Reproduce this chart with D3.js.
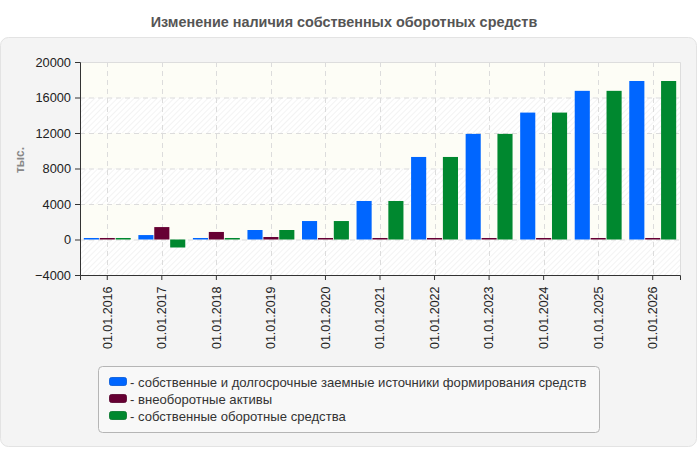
<!DOCTYPE html>
<html><head><meta charset="utf-8">
<script src="https://cdn.jsdelivr.net/npm/d3@7"></script>
<style>body{margin:0;background:#fff;font-family:"Liberation Sans",Arial,sans-serif;}</style>
</head><body><svg id="c" width="700" height="450"></svg>
<script>
const categories = ["01.01.2016","01.01.2017","01.01.2018","01.01.2019","01.01.2020","01.01.2021","01.01.2022","01.01.2023","01.01.2024","01.01.2025","01.01.2026"];
const seriesNames = ["собственные и долгосрочные заемные источники формирования средств","внеоборотные активы","собственные оборотные средства"];
const ownAndLongTerm = [170, 500, 170, 1070, 2080, 4340, 9300, 11900, 14300, 16750, 17860];
const nonCurrentAssets = [170, 1400, 850, 280, 170, 170, 170, 170, 170, 170, 170];
const ownWorkingCapital = [170, -900, 170, 1070, 2080, 4340, 9300, 11900, 14300, 16750, 17860];
const yTicks = [-4000, 0, 4000, 8000, 12000, 16000, 20000];
const colors = ["#0066ff", "#660033", "#00882f"];
const series = [ownAndLongTerm, nonCurrentAssets, ownWorkingCapital];

const svg = d3.select("#c");
const defs = svg.append("defs");
const pat = defs.append("pattern").attr("id","hatch").attr("patternUnits","userSpaceOnUse")
  .attr("width",4).attr("height",4).attr("patternTransform","rotate(45)");
pat.append("rect").attr("width",4).attr("height",4).attr("fill","#ffffff");
pat.append("line").attr("x1",0).attr("y1",0).attr("x2",0).attr("y2",4).attr("stroke","#ececec").attr("stroke-width",1.2);

// panel
svg.append("rect").attr("x",0.5).attr("y",37.5).attr("width",696).attr("height",409).attr("rx",8)
  .attr("fill","#f4f4f4").attr("stroke","#e3e3e3");

svg.append("text").attr("x",344).attr("y",27).attr("text-anchor","middle")
  .attr("font-size",14.4).attr("font-weight","bold").attr("fill","#555")
  .text("Изменение наличия собственных оборотных средств");

const L=80, R=680, T=62, B=275;
const y = d3.scaleLinear().domain([-4000,20000]).range([B,T]);
const x = d3.scaleBand().domain(categories).range([L,R]).paddingInner(0.14).paddingOuter(0.07);
const xs = d3.scaleBand().domain(d3.range(3)).range([0,x.bandwidth()]).paddingInner(0.05);
const xc = d => x(d) + x.bandwidth()/2;

// background bands
for (let i=0;i<yTicks.length-1;i++){
  const lo=yTicks[i], hi=yTicks[i+1];
  const plain = ((yTicks.length-2-i)%2===0);
  svg.append("rect").attr("x",L).attr("y",y(hi)).attr("width",R-L).attr("height",y(lo)-y(hi))
    .attr("fill", plain ? "#fdfdf6" : "url(#hatch)");
}
// grid
svg.append("g").selectAll("line").data(yTicks).join("line")
  .attr("x1",L).attr("x2",R).attr("y1",d=>y(d)+0.5).attr("y2",d=>y(d)+0.5)
  .attr("stroke","#dcdcdc").attr("stroke-dasharray","5,4");
svg.append("g").selectAll("line").data(categories).join("line")
  .attr("x1",d=>Math.round(xc(d))+0.5).attr("x2",d=>Math.round(xc(d))+0.5).attr("y1",T).attr("y2",B)
  .attr("stroke","#dcdcdc").attr("stroke-dasharray","5,4");
// plot border top/right
svg.append("path").attr("d",`M${L},${T+0.5}H${R+0.5}V${B}`).attr("fill","none").attr("stroke","#dddddd");

// bars
series.forEach((vals,si)=>{
  svg.append("g").selectAll("rect").data(vals).join("rect")
    .attr("x",(d,i)=>x(categories[i])+xs(si))
    .attr("width",xs.bandwidth())
    .attr("y",d=>y(Math.max(0,d)))
    .attr("height",d=>Math.abs(y(d)-y(0)))
    .attr("fill",colors[si]);
});

// axes
const ya = svg.append("g").attr("transform",`translate(${L},0)`)
  .call(d3.axisLeft(y).tickValues(yTicks).tickSize(5).tickPadding(4).tickFormat(d3.format("d")));
ya.selectAll("text").attr("font-size",12.8).attr("fill","#222").attr("font-family","Liberation Sans, Arial, sans-serif");
ya.selectAll("line,path").attr("stroke","#333");
const xa = svg.append("g").attr("transform",`translate(0,${B})`)
  .call(d3.axisBottom(x).tickSize(5).tickPadding(5));
xa.selectAll("text").attr("font-size",12.5).attr("fill","#222").attr("font-family","Liberation Sans, Arial, sans-serif")
  .attr("transform","rotate(-90)").attr("text-anchor","end").attr("dx","-0.6em").attr("dy","0.35em").attr("x",-4).attr("y",0);
xa.selectAll("line,path").attr("stroke","#333");

svg.append("text").attr("transform","translate(24,160) rotate(-90)").attr("text-anchor","middle")
  .attr("font-size",12).attr("font-weight","bold").attr("fill","#888").text("тыс.");

// legend
const lg = svg.append("g");
lg.append("rect").attr("x",98.5).attr("y",366.5).attr("width",501).attr("height",66).attr("rx",4)
  .attr("fill","#f8f8f8").attr("stroke","#b5b5b5");
seriesNames.forEach((n,i)=>{
  const yy = 382 + i*17;
  lg.append("rect").attr("x",109.5).attr("y",yy-4.5).attr("width",17).attr("height",8).attr("rx",2)
    .attr("fill",colors[i]).attr("stroke",d3.color(colors[i]).darker(0.5)).attr("stroke-width",0.8);
  lg.append("text").attr("x",130).attr("y",yy+4.5).attr("font-size",13.1).attr("fill","#333").text("- "+n);
});
</script></body></html>
